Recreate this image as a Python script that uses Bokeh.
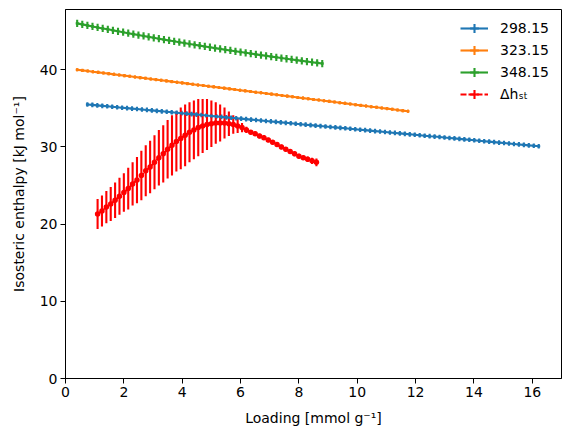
import numpy as np
from bokeh.plotting import figure
from bokeh.models import ColumnDataSource, Range1d, FixedTicker, Legend, LegendItem
from bokeh.embed import file_html
from bokeh.resources import INLINE

# ---------------- data ----------------
loading_298 = [0.75, 0.92, 1.09, 1.26, 1.43, 1.60, 1.77, 1.94, 2.11, 2.28,
               2.45, 2.62, 2.79, 2.96, 3.13, 3.30, 3.47, 3.64, 3.81, 3.98,
               4.15, 4.32, 4.49, 4.66, 4.83, 5.00, 5.17, 5.34, 5.51, 5.68,
               5.85, 6.02, 6.19, 6.36, 6.53, 6.70, 6.87, 7.04, 7.21, 7.38,
               7.55, 7.72, 7.89, 8.06, 8.23, 8.40, 8.57, 8.74, 8.91, 9.08,
               9.25, 9.42, 9.59, 9.76, 9.93, 10.10, 10.27, 10.44, 10.61, 10.78,
               10.95, 11.12, 11.29, 11.46, 11.63, 11.80, 11.97, 12.14, 12.31, 12.48,
               12.65, 12.82, 12.99, 13.16, 13.33, 13.50, 13.67, 13.84, 14.01, 14.18,
               14.35, 14.52, 14.69, 14.86, 15.03, 15.20, 15.37, 15.54, 15.71, 15.88,
               16.05, 16.22]
enthalpy_298 = [35.50, 35.44, 35.38, 35.32, 35.26, 35.20, 35.14, 35.08, 35.02, 34.96,
                34.91, 34.85, 34.79, 34.73, 34.67, 34.61, 34.55, 34.49, 34.43, 34.37,
                34.31, 34.25, 34.19, 34.13, 34.07, 34.01, 33.95, 33.89, 33.83, 33.77,
                33.72, 33.66, 33.60, 33.54, 33.48, 33.42, 33.36, 33.30, 33.24, 33.18,
                33.12, 33.06, 33.00, 32.94, 32.88, 32.82, 32.76, 32.70, 32.64, 32.58,
                32.53, 32.47, 32.41, 32.35, 32.29, 32.23, 32.17, 32.11, 32.05, 31.99,
                31.93, 31.87, 31.81, 31.75, 31.69, 31.63, 31.57, 31.51, 31.45, 31.39,
                31.34, 31.28, 31.22, 31.16, 31.10, 31.04, 30.98, 30.92, 30.86, 30.80,
                30.74, 30.68, 30.62, 30.56, 30.50, 30.44, 30.38, 30.32, 30.26, 30.20,
                30.15, 30.09]
error_298 = 0.3

loading_323 = [0.40, 0.58, 0.76, 0.94, 1.12, 1.30, 1.48, 1.66, 1.84, 2.02,
               2.20, 2.38, 2.56, 2.74, 2.92, 3.10, 3.28, 3.46, 3.64, 3.82,
               4.00, 4.18, 4.36, 4.54, 4.72, 4.90, 5.08, 5.26, 5.44, 5.62,
               5.80, 5.98, 6.16, 6.34, 6.52, 6.70, 6.88, 7.06, 7.24, 7.42,
               7.60, 7.78, 7.96, 8.14, 8.32, 8.50, 8.68, 8.86, 9.04, 9.22,
               9.40, 9.58, 9.76, 9.94, 10.12, 10.30, 10.48, 10.66, 10.84, 11.02,
               11.20, 11.38, 11.56, 11.74]
enthalpy_323 = [40.00, 39.91, 39.83, 39.74, 39.66, 39.57, 39.49, 39.40, 39.32, 39.23,
                39.15, 39.06, 38.97, 38.89, 38.80, 38.72, 38.63, 38.55, 38.46, 38.38,
                38.29, 38.20, 38.12, 38.03, 37.95, 37.86, 37.78, 37.69, 37.61, 37.52,
                37.44, 37.35, 37.26, 37.18, 37.09, 37.01, 36.92, 36.84, 36.75, 36.67,
                36.58, 36.49, 36.41, 36.32, 36.24, 36.15, 36.07, 35.98, 35.90, 35.81,
                35.73, 35.64, 35.55, 35.47, 35.38, 35.30, 35.21, 35.13, 35.04, 34.96,
                34.87, 34.78, 34.70, 34.61]
error_323 = 0.2

loading_348 = [0.400, 0.575, 0.750, 0.925, 1.100, 1.275, 1.450, 1.625, 1.800, 1.975,
               2.150, 2.325, 2.500, 2.675, 2.850, 3.025, 3.200, 3.375, 3.550, 3.725,
               3.900, 4.075, 4.250, 4.425, 4.600, 4.775, 4.950, 5.125, 5.300, 5.475,
               5.650, 5.825, 6.000, 6.175, 6.350, 6.525, 6.700, 6.875, 7.050, 7.225,
               7.400, 7.575, 7.750, 7.925, 8.100, 8.275, 8.450, 8.625, 8.800]
enthalpy_348 = [46.00, 45.87, 45.74, 45.61, 45.48, 45.35, 45.23, 45.10, 44.98, 44.86,
                44.73, 44.61, 44.49, 44.37, 44.25, 44.14, 44.02, 43.90, 43.79, 43.68,
                43.56, 43.45, 43.34, 43.23, 43.12, 43.01, 42.91, 42.80, 42.70, 42.59,
                42.49, 42.39, 42.29, 42.19, 42.09, 41.99, 41.89, 41.80, 41.70, 41.61,
                41.51, 41.42, 41.33, 41.24, 41.15, 41.06, 40.97, 40.89, 40.80]
error_348 = 0.47

loading_dh = [1.10, 1.25, 1.40, 1.55, 1.70, 1.85, 2.00, 2.15, 2.30, 2.45,
              2.60, 2.75, 2.90, 3.05, 3.20, 3.35, 3.50, 3.65, 3.80, 3.95,
              4.10, 4.25, 4.40, 4.55, 4.70, 4.85, 5.00, 5.15, 5.30, 5.45,
              5.60, 5.75, 5.90, 6.05, 6.20, 6.35, 6.50, 6.65, 6.80, 6.95,
              7.10, 7.25, 7.40, 7.55, 7.70, 7.85, 8.00, 8.15, 8.30, 8.45,
              8.60]
enthalpy_dh = [21.3, 21.7, 22.2, 22.6, 23.1, 23.6, 24.1, 24.6, 25.2, 25.7,
               26.3, 26.9, 27.4, 28.0, 28.6, 29.1, 29.7, 30.2, 30.7, 31.1,
               31.5, 31.9, 32.2, 32.5, 32.7, 32.9, 33.0, 33.1, 33.1, 33.1,
               33.0, 32.9, 32.7, 32.5, 32.2, 31.9, 31.7, 31.4, 31.2, 30.9,
               30.6, 30.3, 30.0, 29.7, 29.4, 29.1, 28.8, 28.6, 28.4, 28.2,
               28.0]
error_dh = [1.95, 2.0, 2.1, 2.2, 2.3, 2.4, 2.5, 2.7, 2.8, 3.0,
            3.2, 3.3, 3.4, 3.5, 3.6, 3.7, 3.8, 3.9, 3.9, 4.0,
            4.0, 3.9, 3.8, 3.7, 3.5, 3.3, 3.0, 2.7, 2.4, 2.0,
            1.6, 1.2, 0.9, 0.6, 0.4, 0.3, 0.3, 0.3, 0.3, 0.3,
            0.3, 0.3, 0.3, 0.3, 0.3, 0.3, 0.3, 0.3, 0.35, 0.4,
            0.5]

series_labels = ["298.15", "323.15", "348.15"]
dh_label = "\u0394h\u209b\u209c"
x_ticks = [0, 2, 4, 6, 8, 10, 12, 14, 16]
y_ticks = [0, 10, 20, 30, 40]
x_title = "Loading [mmol g\u207b\u00b9]"
y_title = "Isosteric enthalpy [kJ mol\u207b\u00b9]"

FONT = "DejaVu Sans"

p = figure(frame_width=496, frame_height=369,
           x_range=Range1d(0, 17.0), y_range=Range1d(0, 47.8),
           output_backend="svg", toolbar_location=None, title=None,
           min_border_left=65, min_border_right=8, min_border_top=9,
           min_border_bottom=61, background_fill_color="white",
           border_fill_color="white")

p.xgrid.visible = False
p.ygrid.visible = False
p.outline_line_color = "black"
p.outline_line_width = 1
p.outline_line_alpha = 1

for ax, ticks, title in ((p.xaxis[0], x_ticks, x_title), (p.yaxis[0], y_ticks, y_title)):
    ax.ticker = FixedTicker(ticks=ticks)
    ax.axis_label = title
    ax.axis_label_text_font = FONT
    ax.axis_label_text_font_size = "14px"
    ax.axis_label_text_font_style = "normal"
    ax.axis_label_text_color = "black"
    ax.major_label_text_font = FONT
    ax.major_label_text_font_size = "14px"
    ax.major_label_text_color = "black"
    ax.major_tick_out = 5
    ax.major_tick_in = 0
    ax.minor_tick_out = 0
    ax.minor_tick_in = 0
    ax.major_tick_line_color = "black"
    ax.axis_line_color = "black"
    ax.major_label_standoff = 3
p.xaxis[0].axis_label_standoff = 10
p.yaxis[0].axis_label_standoff = 10

colors = ["#1f77b4", "#ff7f0e", "#2ca02c"]
datasets = [(loading_298, enthalpy_298, error_298),
            (loading_323, enthalpy_323, error_323),
            (loading_348, enthalpy_348, error_348)]

sources = []
for (xs, ys, e), c in zip(datasets, colors):
    ya = np.array(ys)
    src = ColumnDataSource(dict(x=xs, y=ys, lo=ya - e, hi=ya + e))
    sources.append(src)
    p.segment(x0="x", y0="lo", x1="x", y1="hi", source=src,
              line_color=c, line_width=2.1)

ya = np.array(enthalpy_dh)
ea = np.array(error_dh)
src_dh = ColumnDataSource(dict(x=loading_dh, y=enthalpy_dh, lo=ya - ea, hi=ya + ea))
p.segment(x0="x", y0="lo", x1="x", y1="hi", source=src_dh,
          line_color="red", line_width=2.1)

items = []
for src, c, lab in zip(sources, colors, series_labels):
    ln = p.line("x", "y", source=src, line_color=c, line_width=2.1)
    tick = p.scatter("x", "y", source=src, marker="cross",
                     size=3, line_color=c, line_width=2.1)
    items.append(LegendItem(label=lab, renderers=[ln, tick]))

ln_dh = p.line("x", "y", source=src_dh, line_color="red", line_width=2.1,
               line_dash="6 2")
tick_dh = p.scatter("x", "y", source=src_dh, marker="cross",
                    size=3, line_color="red", line_width=2.1)
dot_dh = p.scatter("x", "y", source=src_dh, marker="dot", size=22,
                   line_color="red", fill_color="red")
items.append(LegendItem(label=dh_label, renderers=[ln_dh, tick_dh, dot_dh]))

legend = Legend(items=items, location="top_right", margin=0, padding=8,
                glyph_width=28, glyph_height=22, spacing=0,
                label_standoff=12, label_width=53,
                label_text_font=FONT, label_text_font_size="14px",
                label_text_color="black",
                border_line_alpha=0, background_fill_alpha=0)
p.add_layout(legend)

open("out.html", "w").write(file_html(p, INLINE))
